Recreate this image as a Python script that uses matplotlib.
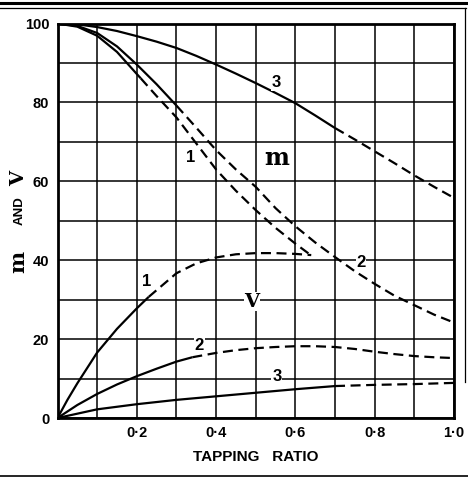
import matplotlib
matplotlib.use("Agg")
import matplotlib.pyplot as plt
from matplotlib.lines import Line2D

# m curves (upper group): solid part then dashed part
m1_solid_x = [0, 0.05, 0.1, 0.15, 0.2, 0.21]
m1_solid_y = [100, 99.2, 96.9, 92.8, 87.2, 86.1]
m1_dash_x = [0.21, 0.25, 0.3, 0.35, 0.4, 0.45, 0.5, 0.55, 0.6, 0.64]
m1_dash_y = [86.1, 81.6, 76.2, 69.6, 63.0, 57.6, 52.7, 48.2, 44.2, 41.2]

m2_solid_x = [0, 0.05, 0.1, 0.15, 0.2, 0.25, 0.3]
m2_solid_y = [100, 99.4, 97.6, 94.2, 89.6, 84.6, 79.2]
m2_dash_x = [0.3, 0.35, 0.4, 0.45, 0.5, 0.55, 0.6, 0.65, 0.7, 0.75, 0.8,
             0.85, 0.9, 0.95, 1.0]
m2_dash_y = [79.2, 73.6, 67.9, 63.0, 58.6, 53.2, 48.6, 44.5, 40.8, 37.2, 34.0,
             31.0, 28.6, 26.2, 24.2]

m3_solid_x = [0, 0.05, 0.1, 0.15, 0.2, 0.25, 0.3, 0.35, 0.4, 0.45, 0.5,
              0.55, 0.6, 0.65, 0.7]
m3_solid_y = [100, 99.8, 99.1, 98.1, 96.8, 95.4, 93.8, 91.8, 89.6, 87.3, 84.9,
              82.4, 79.8, 76.7, 73.5]
m3_dash_x = [0.7, 0.75, 0.8, 0.85, 0.9, 0.95, 1.0]
m3_dash_y = [73.5, 70.6, 67.6, 64.6, 61.5, 58.6, 55.8]

# V curves (lower group)
v1_solid_x = [0, 0.025, 0.05, 0.1, 0.15, 0.2, 0.23]
v1_solid_y = [0, 4.6, 8.8, 16.6, 22.6, 27.8, 30.7]
v1_dash_x = [0.23, 0.3, 0.35, 0.4, 0.45, 0.5, 0.55, 0.6, 0.64]
v1_dash_y = [30.7, 36.7, 39.2, 40.7, 41.5, 41.8, 41.8, 41.6, 41.3]

v2_solid_x = [0, 0.05, 0.1, 0.15, 0.2, 0.25, 0.3, 0.34]
v2_solid_y = [0, 3.3, 6.1, 8.5, 10.6, 12.5, 14.3, 15.4]
v2_dash_x = [0.34, 0.4, 0.45, 0.5, 0.55, 0.6, 0.65, 0.7, 0.75, 0.8, 0.85,
             0.9, 0.95, 1.0]
v2_dash_y = [15.4, 16.5, 17.2, 17.7, 18.0, 18.2, 18.2, 18.0, 17.5, 16.8, 16.2,
             15.7, 15.4, 15.2]

v3_solid_x = [0, 0.1, 0.2, 0.3, 0.4, 0.5, 0.6, 0.7]
v3_solid_y = [0, 2.2, 3.5, 4.6, 5.5, 6.4, 7.3, 8.1]
v3_dash_x = [0.7, 0.8, 0.9, 1.0]
v3_dash_y = [8.1, 8.4, 8.6, 8.9]

x_ticks = [0.2, 0.4, 0.6, 0.8, 1.0]
x_ticklabels = ["0\u00b72", "0\u00b74", "0\u00b76", "0\u00b78", "1\u00b70"]
y_ticks = [0, 20, 40, 60, 80, 100]
y_ticklabels = ["0", "20", "40", "60", "80", "100"]

curve_labels = [("1", 0.335, 66.0), ("2", 0.765, 39.5), ("3", 0.552, 85.0),
                ("1", 0.225, 34.5), ("2", 0.358, 18.5), ("3", 0.553, 10.4)]

fig = plt.figure(figsize=(4.68, 4.78), dpi=100)
ax = fig.add_axes([0.1229, 0.1255, 0.8471, 0.8253])

lw = 1.6
dash = (0, (4.5, 2.5))
for sx, sy, dx, dy in [(m1_solid_x, m1_solid_y, m1_dash_x, m1_dash_y),
                       (m2_solid_x, m2_solid_y, m2_dash_x, m2_dash_y),
                       (m3_solid_x, m3_solid_y, m3_dash_x, m3_dash_y),
                       (v1_solid_x, v1_solid_y, v1_dash_x, v1_dash_y),
                       (v2_solid_x, v2_solid_y, v2_dash_x, v2_dash_y),
                       (v3_solid_x, v3_solid_y, v3_dash_x, v3_dash_y)]:
    ax.plot(sx, sy, color="black", lw=lw, solid_capstyle="butt")
    ax.plot(dx, dy, color="black", lw=lw, linestyle=dash)

ax.set_xlim(0, 1.0)
ax.set_ylim(0, 100)
ax.set_xticks(x_ticks, x_ticklabels)
ax.set_xticks([i / 10 for i in range(11)], minor=True)
ax.set_yticks(y_ticks, y_ticklabels)
ax.set_yticks(range(0, 101, 10), minor=True)
ax.grid(True, which="both", color="black", lw=1.1)
ax.set_axisbelow(True)
ax.tick_params(which="both", length=0, pad=6)
for lab in ax.get_xticklabels() + ax.get_yticklabels():
    lab.set_fontfamily("Liberation Sans")
    lab.set_fontweight("bold")
    lab.set_fontsize(10.5)

for s in ax.spines.values():
    s.set_linewidth(2.0)

ax.set_xlabel("TAPPING   RATIO", family="Liberation Sans", fontweight="bold",
              fontsize=11, labelpad=7)

# curve numbers and group letters
for txt, x, y in curve_labels:
    ax.text(x, y, txt, ha="center", va="center", fontsize=12,
            family="Liberation Sans", fontweight="bold",
            bbox=dict(facecolor="white", edgecolor="none", pad=0.5))
ax.text(0.552, 66.0, "m", ha="center", va="center", fontsize=17,
        family="DejaVu Serif", fontweight="bold",
        bbox=dict(facecolor="white", edgecolor="none", pad=0.5))
ax.text(0.49, 29.5, "V", ha="center", va="center", fontsize=14,
        family="DejaVu Serif", fontweight="bold",
        bbox=dict(facecolor="white", edgecolor="none", pad=0.3))

# y axis label pieces
fig.text(0.040, 0.452, "m", rotation=90, ha="center", va="center",
         fontsize=15, family="DejaVu Serif", fontweight="bold")
fig.text(0.042, 0.560, "AND", rotation=90, ha="center", va="center",
         fontsize=9.5, family="Liberation Sans", fontweight="bold")
fig.text(0.040, 0.626, "V", rotation=90, ha="center", va="center",
         fontsize=14, family="DejaVu Serif", fontweight="bold")

# scanned page border lines
fig.add_artist(Line2D([0, 1], [0.994, 0.994], color="black", lw=2.2))
fig.add_artist(Line2D([0, 0.995], [0.984, 0.984], color="black", lw=0.9))
fig.add_artist(Line2D([0.993, 0.993], [0.2, 0.984], color="black", lw=0.9))
fig.add_artist(Line2D([0, 1], [0.005, 0.005], color="black", lw=1.2))

fig.savefig("out.png", dpi=100)
